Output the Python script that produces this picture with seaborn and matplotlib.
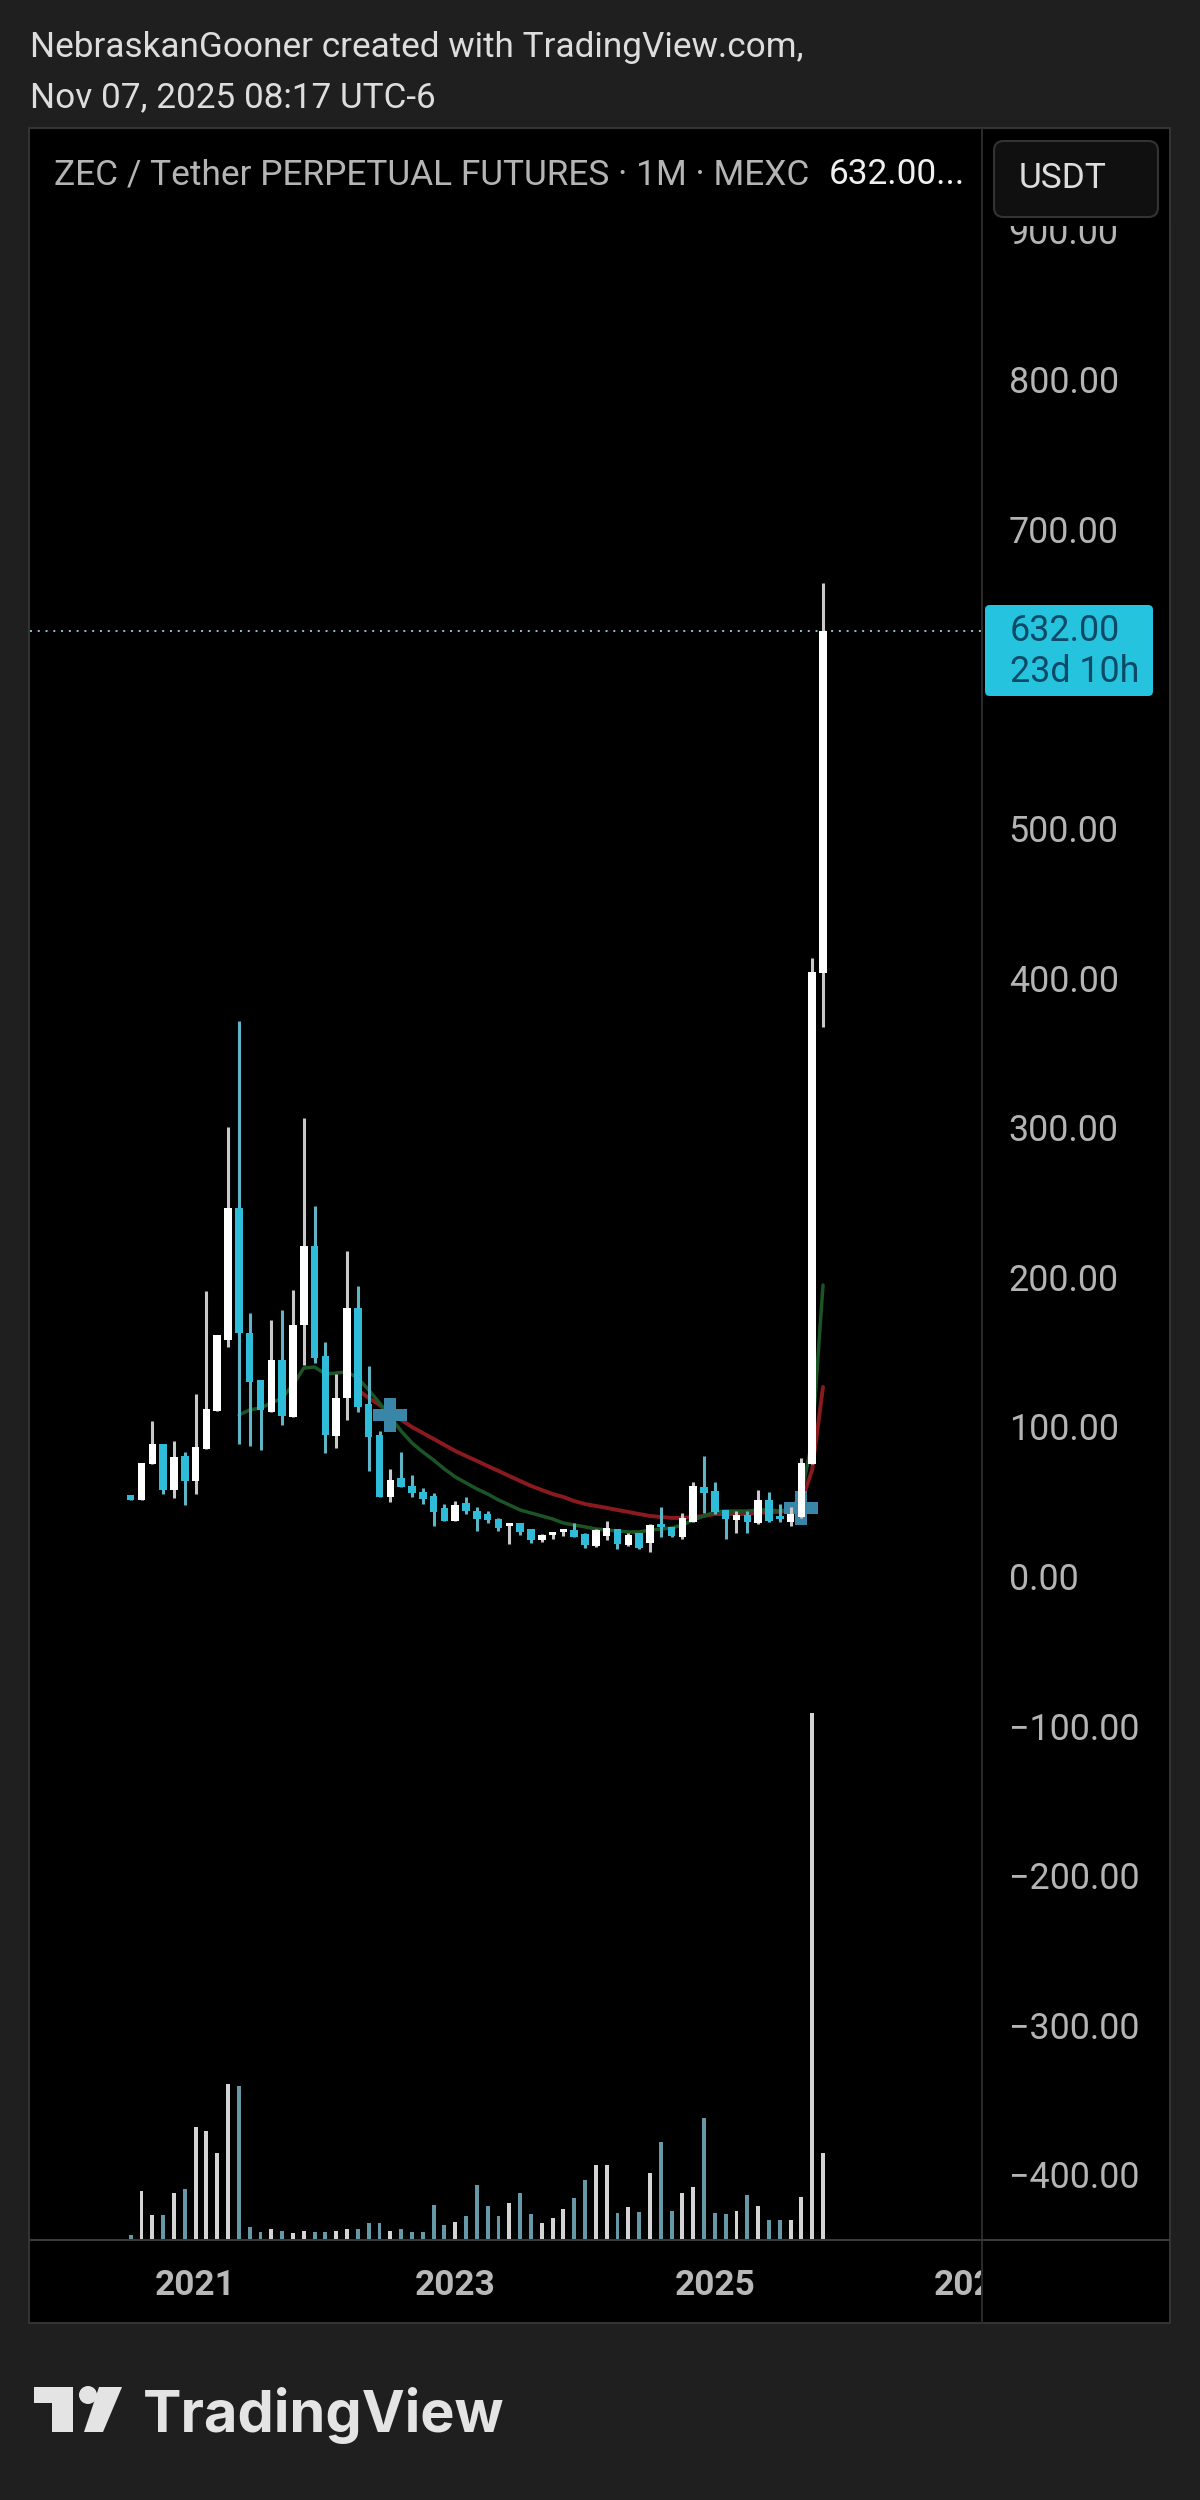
"""
ZEC / USDT monthly candles, TradingView dark snapshot
"""
import numpy as np
import pandas as pd
import matplotlib.pyplot as plt
from matplotlib.patches import Rectangle, Polygon, Circle, FancyBboxPatch
import seaborn as sns

rc_params = {
    'axes.facecolor': 'black',
    'figure.facecolor': '#1f1f1f',
    'axes.grid': False,
}
sns.set_theme(style="dark", rc=rc_params)
plt.rcParams['font.family'] = ['Roboto', 'DejaVu Sans']

# monthly bars, Jul 2020 onwards
opens = [54.1, 50.8, 74.9, 88.2, 57.5, 80.2, 63.5, 84.9, 110.3, 157.7, 246.0, 162.4, 131.0,
         109.6, 144.4, 106.3, 167.8, 220.6, 147.0, 93.6, 119.0, 179.1, 115.0, 94.2, 52.8, 65.5,
         60.2, 56.1, 53.5, 45.5, 36.8, 48.8, 43.4, 41.4, 38.1, 33.4, 35.4, 31.4, 24.1, 27.4,
         29.4, 30.7, 28.1, 20.1, 26.7, 31.4, 20.7, 28.7, 22.1, 34.8, 32.8, 26.1, 36.1, 59.5,
         56.8, 44.1, 37.4, 40.8, 35.4, 50.8, 40.1, 36.1, 39.4, 74.9, 403.0]
closes = [50.8, 75.5, 88.2, 57.5, 79.5, 63.5, 86.2, 111.6, 161.1, 246.0, 162.4, 129.7, 111.0,
          144.4, 106.9, 167.8, 220.6, 145.7, 94.2, 119.0, 179.1, 113.0, 92.9, 52.8, 64.2, 59.5,
          55.5, 51.5, 42.8, 36.8, 47.5, 43.4, 38.1, 37.4, 32.1, 35.4, 29.4, 24.1, 27.4, 29.4,
          31.4, 26.1, 20.7, 30.7, 32.1, 21.4, 27.4, 18.7, 34.1, 32.8, 26.7, 38.8, 60.2, 55.5,
          42.8, 38.1, 40.8, 36.1, 50.8, 36.8, 38.1, 41.4, 75.5, 403.7, 632.0]
highs = [54.1, 75.5, 103.6, 88.2, 90.2, 82.9, 121.6, 190.5, 161.1, 300.1, 371.0, 175.8, 131.0,
         171.1, 177.8, 191.2, 306.1, 247.3, 156.4, 135.0, 217.2, 193.8, 140.4, 96.9, 71.5, 82.9,
         67.5, 58.8, 55.5, 48.1, 50.1, 52.8, 46.1, 43.4, 38.8, 35.4, 35.4, 31.4, 28.1, 29.4,
         31.4, 35.4, 28.7, 31.4, 36.8, 31.4, 28.7, 28.7, 34.8, 46.1, 32.8, 42.1, 62.8, 80.2,
         62.8, 44.1, 43.4, 43.4, 57.5, 56.1, 48.1, 46.1, 78.9, 413.0, 663.7]
lows = [50.8, 50.8, 74.9, 54.8, 52.1, 47.5, 54.8, 84.9, 110.3, 153.1, 88.2, 86.9, 84.2,
        109.6, 100.9, 106.3, 141.0, 142.4, 82.2, 85.6, 104.3, 109.6, 70.2, 52.8, 49.5, 59.5,
        52.8, 48.1, 33.4, 36.8, 36.8, 41.4, 30.1, 35.4, 30.1, 21.4, 27.4, 22.1, 23.0, 24.7,
        26.7, 26.1, 18.7, 19.4, 24.1, 18.0, 20.1, 18.0, 16.0, 26.1, 26.0, 24.7, 36.1, 42.1,
        41.4, 24.7, 28.7, 28.7, 35.0, 36.0, 36.1, 33.4, 39.0, 74.9, 367.0]
volumes = [5, 49, 25, 25, 47, 51, 113, 109, 87, 156, 154, 13, 8, 11, 9, 7, 9, 8, 8, 9, 11, 11,
           17, 17, 9, 11, 8, 8, 35, 15, 18, 24, 55, 34, 24, 37, 47, 26, 17, 22, 31, 42, 60, 75,
           75, 27, 33, 28, 67, 98, 29, 47, 53, 122, 27, 26, 29, 45, 34, 20, 20, 20, 43, 527, 87]

ema_slow = [np.nan] * 21 + [124.3, 119.0, 114.3, 109.0, 104.3, 99.6, 95.6, 91.6, 87.6, 83.6,
                            80.2, 76.9, 73.5, 70.2, 66.8, 63.5, 60.2, 57.5, 54.8, 52.8, 50.1,
                            48.1, 46.8, 45.5, 44.1, 42.8, 41.4, 40.1, 39.4, 38.8, 38.8, 39.4,
                            40.1, 41.4, 41.4, 41.4, 41.4, 42.1, 42.8, 42.8, 44.1, 49.5, 70.9,
                            126.3]
ema_fast = [np.nan] * 10 + [107.6, 111.0, 112.3, 115.6, 119.0, 127.7, 139.0, 139.7, 135.0,
                            135.7, 136.4, 132.3, 124.3, 115.6, 106.3, 96.9, 88.9, 82.9, 77.5,
                            71.5, 66.2, 62.2, 58.2, 54.8, 50.8, 47.5, 44.1, 42.1, 40.1, 38.1,
                            35.4, 34.1, 32.8, 31.4, 30.7, 30.1, 29.4, 29.4, 30.7, 31.4, 32.1,
                            34.1, 37.4, 40.1, 42.8, 43.4, 43.4, 43.4, 44.1, 44.1, 43.4, 44.8,
                            54.1, 90.9, 194.5]

# blue cross markers on the two ema crossings
cross_idx = [24, 62]
cross_price = [107.6, 45.5]

price_ticks = list(range(-400, 1000, 100))
year_ticks = [6, 30, 54, 78]
year_labels = ['2021', '2023', '2025', '2027']
last_price = 632.0

W, H = 1200, 2500
UP = '#ffffff'
DOWN = '#2fbcd8'


def rect_from_px(x0, y0, x1, y1):
    return [x0 / W, 1 - y1 / H, (x1 - x0) / W, (y1 - y0) / H]


def px(x, y):
    return x / W, 1 - y / H


def fig_text(fig, x, y, s, **kwargs):
    x, y = px(x, y)
    kwargs.setdefault('va', 'center')
    kwargs.setdefault('zorder', 10)
    return fig.text(x, y, s, **kwargs)


def fig_rect(fig, x0, y0, x1, y1, zorder=-1, **kwargs):
    fx, fy = px(x0, y1)
    patch = Rectangle((fx, fy), (x1 - x0) / W, (y1 - y0) / H,
                      transform=fig.transFigure, zorder=zorder, **kwargs)
    fig.add_artist(patch)
    return patch


def draw_candles(ax, df):
    for (_, part), body, wick in zip(df.groupby('up'), [DOWN, UP], ['#5fb4c6', '#c9c9c9']):
        ax.vlines(part['idx'], part['low'], part['high'], color=wick, lw=2.2, zorder=4)
        ax.bar(part['idx'], (part['close'] - part['open']).abs(),
               bottom=part[['open', 'close']].min(axis=1),
               width=0.7, color=body, linewidth=0, zorder=5)


def draw_logo(fig):
    shapes = [
        [(34, 2387), (73, 2387), (73, 2432), (52, 2432), (52, 2403), (34, 2403)],
        [(99, 2387), (122, 2387), (103, 2432), (84, 2432)],
    ]
    for pts in shapes:
        fig.add_artist(Polygon([px(*p) for p in pts], closed=True, color='#e4e4e4',
                               transform=fig.transFigure, zorder=10, lw=0))
    x, y = fig.transFigure.transform(px(88, 2395))
    fig.add_artist(Circle((x, y), 9, color='#e4e4e4', transform=None, zorder=10, lw=0))


df = pd.DataFrame({
    'idx': np.arange(len(opens)),
    'open': opens,
    'close': closes,
    'high': highs,
    'low': lows,
    'volume': volumes,
    'ema_slow': ema_slow,
    'ema_fast': ema_fast,
})
df['up'] = df['close'] >= df['open']

fig = plt.figure(figsize=(12, 25), dpi=100)

# chart frame
fig_rect(fig, 29, 128, 1170, 2323, facecolor='black', edgecolor='#333333', linewidth=1.5)

xlim = (-9.31, 78.79)
ylim = (-443.9, 966.6)

# volume sits on its own scale at the bottom of the pane
ax_vol = fig.add_axes(rect_from_px(30, 130, 983, 2240))
sns.barplot(data=df, x='idx', y='volume', hue='up', native_scale=True, dodge=False,
            palette={True: '#d4d4d4', False: '#5a9fb2'}, width=0.36, linewidth=0,
            legend=False, ax=ax_vol)
ax_vol.set_xlim(*xlim)
ax_vol.set_ylim(0, 2110)
ax_vol.axis('off')

ax = fig.add_axes(rect_from_px(30, 130, 983, 2240))
ax.patch.set_alpha(0)
sns.lineplot(data=df, x='idx', y='ema_slow', color='#8a1a1e', lw=2.8, zorder=2, ax=ax)
sns.lineplot(data=df, x='idx', y='ema_fast', color='#1b5526', lw=2.5, zorder=2, ax=ax)
sns.scatterplot(x=cross_idx, y=cross_price, marker='P', s=565, color='#3a86a8',
                linewidth=0, zorder=3, ax=ax)
draw_candles(ax, df)
ax.axhline(last_price, color='#86c6d2', lw=1.4, ls=(0, (1, 3)), zorder=1)

ax.set_xlim(*xlim)
ax.set_ylim(*ylim)
ax.set_xlabel('')
ax.set_ylabel('')
for spine in ax.spines.values():
    spine.set_visible(False)

ax.yaxis.tick_right()
ax.set_yticks(price_ticks)
# 600.00 sits behind the last price tag
ax.set_yticklabels(['' if p == 600 else f"{p:.2f}".replace('-', '\u2212') for p in price_ticks])
ax.tick_params(axis='y', length=0, pad=18.5, labelsize=25.8, labelcolor='#b4b4b4')
ax.set_xticks(year_ticks)
ax.set_xticklabels(year_labels, fontweight='bold')
ax.tick_params(axis='x', length=0, pad=21, labelsize=25.4, labelcolor='#b8b8b8', bottom=True)
for lbl in ax.get_yticklabels() + ax.get_xticklabels():
    lbl.set_clip_on(False)

# price scale covers whatever runs past the pane
fig_rect(fig, 983, 2241, 1169, 2322, zorder=5, facecolor='black', linewidth=0)
fig_rect(fig, 983, 130, 1169, 226, zorder=5, facecolor='black', linewidth=0)
fig_rect(fig, 981, 128, 983, 2323, zorder=6, facecolor='#2a2a2a', linewidth=0)
fig_rect(fig, 30, 2239, 1169, 2241, zorder=6, facecolor='#3a3a3a', linewidth=0)

# header
fig_text(fig, 30, 47, 'NebraskanGooner created with TradingView.com,', color='#dddddd', fontsize=25.3)
fig_text(fig, 30, 98, 'Nov 07, 2025 08:17 UTC-6', color='#dddddd', fontsize=25.3)
fig_text(fig, 54, 175, 'ZEC / Tether PERPETUAL FUTURES \u00b7 1M \u00b7 MEXC', color='#b4b4b4', fontsize=25.4)
fig_text(fig, 829, 175, '632.00...', color='#f0f0f0', fontsize=25.4)

# unit button
bx, by = px(994, 217)
fig.add_artist(FancyBboxPatch((bx, by), 164 / W, 76 / H, boxstyle='round,pad=0,rounding_size=0.008',
                              mutation_aspect=W / H, transform=fig.transFigure,
                              facecolor='#101010', edgecolor='#333333', linewidth=1.5, zorder=7))
fig_text(fig, 1063, 179, 'USDT', color='#dddddd', fontsize=25.4, ha='center')

# last price tag
tx, ty = px(985, 696)
fig.add_artist(FancyBboxPatch((tx, ty), 168 / W, 91 / H, boxstyle='round,pad=0,rounding_size=0.004',
                              mutation_aspect=W / H, transform=fig.transFigure,
                              facecolor='#25c3dd', edgecolor='none', zorder=7))
fig_text(fig, 1010, 631, '632.00', color='#0c4a68', fontsize=25.8)
fig_text(fig, 1010, 672, '23d 10h', color='#0c4a68', fontsize=25.8)

# footer logo
draw_logo(fig)
fig_text(fig, 143, 2415, 'TradingView', color='#e4e4e4', fontsize=41.5, fontweight='bold',
         family=['Inter', 'DejaVu Sans'])

fig.savefig('out.png', dpi=100, facecolor=fig.get_facecolor())
